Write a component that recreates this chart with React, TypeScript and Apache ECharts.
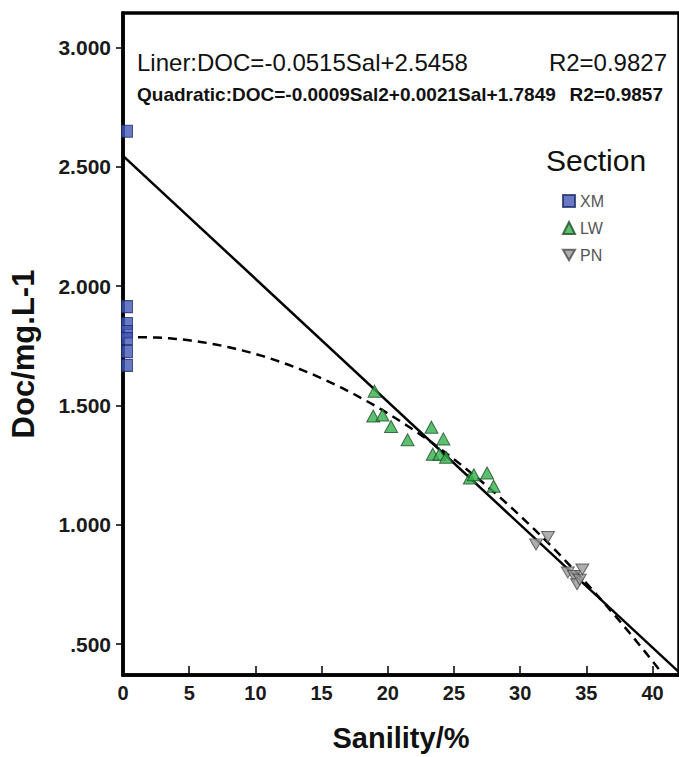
import React, { useEffect, useRef } from "react";
import * as echarts from "echarts";

// ---- data ----
const xmSal = [0.3, 0.3, 0.3, 0.3, 0.3, 0.3, 0.3];
const xmDoc = [2.649, 1.914, 1.843, 1.81, 1.78, 1.726, 1.668];

const lwSal = [19.0, 18.9, 19.6, 20.25, 21.5, 23.3, 24.2, 23.4, 23.9, 24.4, 26.2, 26.5, 27.5, 28.0];
const lwDoc = [1.56, 1.456, 1.46, 1.412, 1.356, 1.409, 1.36, 1.296, 1.296, 1.283, 1.196, 1.21, 1.217, 1.162];

const pnSal = [31.2, 32.1, 33.6, 34.07, 34.3, 34.5, 34.7];
const pnDoc = [0.918, 0.949, 0.8, 0.786, 0.751, 0.77, 0.813];

const xTicks = [0, 5, 10, 15, 20, 25, 30, 35, 40];
const yTicks = [0.5, 1.0, 1.5, 2.0, 2.5, 3.0];

// fitted models as printed on the chart
const linSlope = -0.0515;
const linIntercept = 2.5458;
const quadA = -0.0009;
const quadB = 0.0021;
const quadC = 1.7849;

const X_MIN = 0;
const X_MAX = 42;
const Y_MIN = 0.371;
const Y_MAX = 3.144;

const FONT = "'Liberation Sans', Arial, Helvetica, sans-serif";

export default function App() {
  const ref = useRef<HTMLDivElement>(null);

  useEffect(() => {
    document.body.style.margin = "0";
    if (!ref.current) return;
    const chart = echarts.init(ref.current, undefined, { renderer: "svg" });

    const linLine = [X_MIN, X_MAX].map((x) => [x, linIntercept + linSlope * x]);
    const quadLine: number[][] = [];
    for (let i = 0; i <= 84; i++) {
      const x = i * 0.5;
      quadLine.push([x, quadA * x * x + quadB * x + quadC]);
    }

    const zip = (xs: number[], ys: number[]) => xs.map((x, i) => [x, ys[i]]);
    const downTri = "path://M0,0L10,0L5,8.66Z";

    chart.setOption({
      animation: false,
      backgroundColor: "#ffffff",
      textStyle: { fontFamily: FONT },
      grid: {
        left: 121,
        right: -3.5,
        top: 13,
        bottom: 79,
        show: true,
        borderColor: "#000",
        borderWidth: 3.5,
        backgroundColor: "transparent",
      },
      title: {
        text: "Section",
        left: 546,
        top: 145,
        padding: 0,
        textStyle: { fontFamily: FONT, fontSize: 30, fontWeight: "normal", color: "#111" },
      },
      legend: {
        orient: "vertical",
        left: 562,
        top: 193,
        itemWidth: 12,
        itemHeight: 12,
        itemGap: 11,
        padding: 0,
        textStyle: { fontFamily: FONT, fontSize: 16, color: "#555" },
        data: [
          { name: "XM", icon: "rect" },
          { name: "LW", icon: "triangle" },
          { name: "PN", icon: downTri },
        ],
      },
      xAxis: {
        type: "value",
        min: X_MIN,
        max: X_MAX,
        name: "Sanility/%",
        nameLocation: "middle",
        nameGap: 48,
        nameTextStyle: { fontFamily: FONT, fontSize: 29, fontWeight: "bold", color: "#111" },
        axisLine: { show: true, lineStyle: { color: "#000", width: 3.5 } },
        axisTick: {
          show: true,
          inside: true,
          length: 9,
          lineStyle: { color: "#000", width: 1.5 },
          customValues: xTicks,
        },
        axisLabel: {
          customValues: xTicks,
          margin: 8,
          fontFamily: FONT,
          fontSize: 20,
          fontWeight: "bold",
          color: "#1a1a1a",
          formatter: (v: number) => String(v),
        },
        splitLine: { show: false },
      },
      yAxis: {
        type: "value",
        min: Y_MIN,
        max: Y_MAX,
        name: "Doc/mg.L-1",
        nameLocation: "middle",
        nameGap: 84,
        nameTextStyle: {
          fontFamily: FONT,
          fontSize: 31,
          fontWeight: "bold",
          color: "#111",
          padding: [0, 20, 0, 0],
        },
        axisLine: { show: true, lineStyle: { color: "#000", width: 3.5 } },
        axisTick: {
          show: true,
          inside: false,
          length: 7,
          lineStyle: { color: "#000", width: 1.5 },
          customValues: yTicks,
        },
        axisLabel: {
          customValues: yTicks,
          margin: 12,
          fontFamily: FONT,
          fontSize: 21,
          fontWeight: "bold",
          color: "#1a1a1a",
          formatter: (v: number) => {
            const s = v.toFixed(3);
            return s.startsWith("0") ? s.slice(1) : s;
          },
        },
        splitLine: { show: false },
      },
      graphic: [
        {
          type: "text",
          left: 137,
          top: 50,
          style: { text: "Liner:DOC=-0.0515Sal+2.5458", fontFamily: FONT, fontSize: 24, fill: "#111" },
        },
        {
          type: "text",
          right: 12,
          top: 50,
          style: { text: "R2=0.9827", fontFamily: FONT, fontSize: 24, fill: "#111" },
        },
        {
          type: "text",
          left: 137,
          top: 85,
          style: {
            text: "Quadratic:DOC=-0.0009Sal2+0.0021Sal+1.7849",
            fontFamily: FONT,
            fontSize: 19,
            fontWeight: "bold",
            fill: "#111",
          },
        },
        {
          type: "text",
          right: 16,
          top: 85,
          style: { text: "R2=0.9857", fontFamily: FONT, fontSize: 19, fontWeight: "bold", fill: "#111" },
        },
      ],
      series: [
        {
          name: "Linear",
          type: "line",
          data: linLine,
          showSymbol: false,
          symbol: "none",
          clip: true,
          lineStyle: { color: "#000", width: 2.5 },
          z: 3,
        },
        {
          name: "Quadratic",
          type: "line",
          data: quadLine,
          showSymbol: false,
          symbol: "none",
          smooth: false,
          clip: true,
          lineStyle: { color: "#000", width: 2.5, type: [9, 6] },
          z: 3,
        },
        {
          name: "XM",
          type: "scatter",
          data: zip(xmSal, xmDoc),
          symbol: "rect",
          symbolSize: [11, 12],
          itemStyle: { color: "#4257b8", borderColor: "#1e2a6b", borderWidth: 1 },
          z: 4,
        },
        {
          name: "LW",
          type: "scatter",
          data: zip(lwSal, lwDoc),
          symbol: "triangle",
          symbolSize: [13, 12],
          itemStyle: { color: "#35b04c", borderColor: "#1b4d24", borderWidth: 1 },
          z: 4,
        },
        {
          name: "PN",
          type: "scatter",
          data: zip(pnSal, pnDoc),
          symbol: downTri,
          symbolSize: [13, 11],
          itemStyle: { color: "#9a9a9a", borderColor: "#4a4a4a", borderWidth: 1 },
          z: 4,
        },
      ],
    });

    return () => chart.dispose();
  }, []);

  return <div ref={ref} style={{ width: 679, height: 757 }} />;
}
